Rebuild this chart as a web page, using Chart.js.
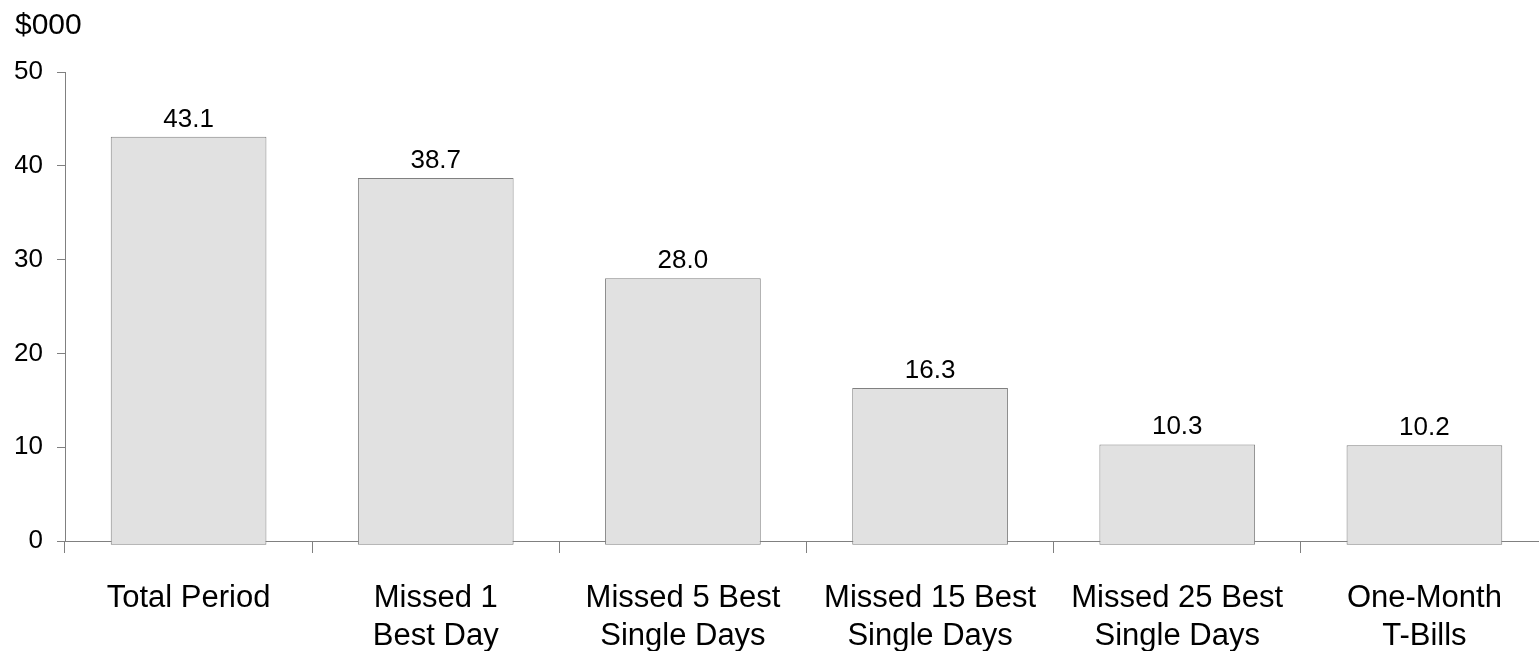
<!DOCTYPE html>
<html>
<head>
<meta charset="utf-8">
<title>Growth of $10,000</title>
<script src="https://cdn.jsdelivr.net/npm/chart.js@4.4.1/dist/chart.umd.min.js"></script>
<style>
  html, body { margin: 0; padding: 0; background: #ffffff; overflow: hidden; }
  #wrap { position: relative; width: 1560px; height: 651px; }
</style>
</head>
<body>
<div id="wrap"><canvas id="chart"></canvas></div>
<script>
// Ending value of the investment, in thousands of dollars
const unitLabel = '$000';
const categories = [
  ['Total Period'],
  ['Missed 1', 'Best Day'],
  ['Missed 5 Best', 'Single Days'],
  ['Missed 15 Best', 'Single Days'],
  ['Missed 25 Best', 'Single Days'],
  ['One-Month', 'T-Bills']
];
const endingValues = [43.1, 38.7, 28.0, 16.3, 10.3, 10.2];
const yTickMin = 0;
const yTickMax = 50;
const yTickStep = 10;

const FONT = '"Liberation Sans", Arial, Helvetica, sans-serif';
const AXIS_GRAY = '#808080';

// Writes each bar's value just above its top edge
const valueLabels = {
  id: 'valueLabels',
  afterDatasetsDraw(chart) {
    const ctx = chart.ctx;
    const meta = chart.getDatasetMeta(0);
    const data = chart.data.datasets[0].data;
    ctx.save();
    ctx.font = '26px ' + FONT;
    ctx.fillStyle = '#000000';
    ctx.textAlign = 'center';
    ctx.textBaseline = 'alphabetic';
    meta.data.forEach((bar, i) => {
      ctx.fillText(Number(data[i]).toFixed(1), bar.x, bar.y - 10);
    });
    ctx.restore();
  }
};

new Chart(document.getElementById('chart'), {
  type: 'bar',
  data: {
    labels: categories,
    datasets: [{
      data: endingValues,
      backgroundColor: '#e1e1e1',
      borderColor: AXIS_GRAY,
      borderWidth: 1,
      borderSkipped: false,
      base: -0.4,
      clip: false,
      barPercentage: 0.63,
      categoryPercentage: 1
    }]
  },
  options: {
    responsive: true,
    maintainAspectRatio: false,
    animation: false,
    events: [],
    layout: { padding: { left: 15, right: 12, top: 0, bottom: 0 } },
    plugins: {
      legend: { display: false },
      tooltip: { enabled: false },
      title: {
        display: true,
        text: unitLabel,
        align: 'start',
        color: '#000000',
        font: { family: FONT, size: 30, weight: 'normal', lineHeight: 1.2 },
        padding: { top: 8, bottom: 28 }
      }
    },
    scales: {
      x: {
        z: 1,
        offset: true,
        grid: {
          offset: true,
          drawOnChartArea: false,
          drawTicks: true,
          tickLength: 12,
          color: AXIS_GRAY,
          lineWidth: 1
        },
        border: { display: true, color: AXIS_GRAY, width: 1 },
        ticks: {
          color: '#000000',
          font: { family: FONT, size: 31, lineHeight: 1.24 },
          padding: 26,
          maxRotation: 0,
          autoSkip: false
        },
        afterFit(scale) { scale.height = 110; }
      },
      y: {
        z: 1,
        min: yTickMin,
        max: yTickMax,
        grid: {
          drawOnChartArea: false,
          drawTicks: true,
          tickLength: 8,
          color: AXIS_GRAY,
          lineWidth: 1
        },
        border: { display: true, color: AXIS_GRAY, width: 1 },
        ticks: {
          stepSize: yTickStep,
          color: '#000000',
          font: { family: FONT, size: 26 },
          padding: 14
        },
        afterFit(scale) { scale.width = 50; }
      }
    }
  },
  plugins: [valueLabels]
});
</script>
</body>
</html>
